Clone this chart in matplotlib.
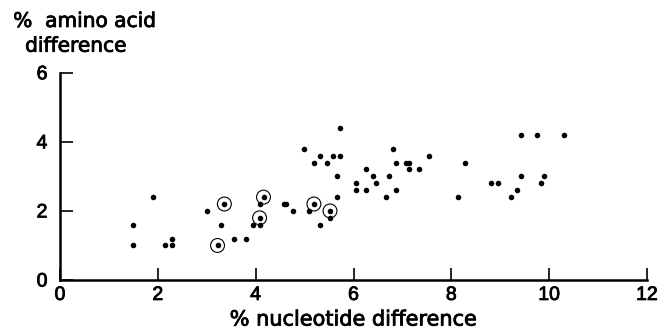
import matplotlib
matplotlib.use("Agg")
import matplotlib.pyplot as plt
import matplotlib.patheffects as pe

# plain points
x_plain = [1.5, 1.5, 1.9, 2.15, 2.28, 2.28, 3.0, 3.3, 3.55, 3.8, 3.95, 4.08, 4.08,
           4.58, 4.63, 4.77, 4.98, 5.1, 5.19, 5.32, 5.32, 5.45, 5.52, 5.59, 5.72,
           5.72, 5.66, 5.66, 6.06, 6.06, 6.26, 6.26, 6.4, 6.45, 6.66, 6.73, 6.8,
           6.87, 6.87, 7.07, 7.14, 7.14, 7.34, 7.55, 8.14, 8.28, 8.82, 8.96, 9.22,
           9.35, 9.42, 9.42, 9.76, 9.83, 9.9, 10.3]
y_plain = [1.6, 1.0, 2.4, 1.0, 1.0, 1.2, 2.0, 1.6, 1.2, 1.2, 1.6, 1.6, 2.2,
           2.2, 2.2, 2.0, 3.8, 2.0, 3.4, 3.6, 1.6, 3.4, 1.8, 3.6, 3.6,
           4.4, 3.0, 2.4, 2.8, 2.6, 3.2, 2.6, 3.0, 2.8, 2.4, 3.0, 3.8,
           3.4, 2.6, 3.4, 3.4, 3.2, 3.2, 3.6, 2.4, 3.4, 2.8, 2.8, 2.4,
           2.6, 3.0, 4.2, 4.2, 2.8, 3.0, 4.2]
# circled points
x_circ = [3.22, 3.36, 4.08, 4.16, 5.19, 5.52]
y_circ = [1.0, 2.2, 1.8, 2.4, 2.2, 2.0]

xticks = [0, 2, 4, 6, 8, 10, 12]
yticks = [0, 2, 4, 6]

plt.rcParams['font.family'] = ['DejaVu Sans']
fig = plt.figure(figsize=(6.61, 3.30), dpi=100)
ax = fig.add_axes([0.0908, 0.1515, 0.888, 0.628])

ax.scatter(x_plain + x_circ, y_plain + y_circ, s=16, color='black', zorder=3, linewidths=0)
ax.scatter(x_circ, y_circ, s=100, facecolors='none', edgecolors='black', linewidths=0.8, zorder=2)

thick = [pe.withStroke(linewidth=0.6, foreground='black')]

ax.set_xlim(0, 12)
ax.set_ylim(0, 6)
ax.set_xticks(xticks)
ax.set_yticks(yticks)
ax.set_xticklabels([str(t) for t in xticks], fontsize=14, fontfamily='Liberation Sans')
ax.set_yticklabels([str(t) for t in yticks], fontsize=14, fontfamily='Liberation Sans')
for lab in ax.get_xticklabels() + ax.get_yticklabels():
    lab.set_path_effects(thick)
ax.tick_params(direction='in', length=9, width=1.2, colors='black')
ax.tick_params(axis='x', pad=5)
ax.tick_params(axis='y', pad=9)
ax.spines['top'].set_visible(False)
ax.spines['right'].set_visible(False)
ax.spines['left'].set_linewidth(1.8)
ax.spines['bottom'].set_linewidth(1.8)

xl = ax.set_xlabel('% nucleotide difference', fontsize=15, labelpad=4)
xl.set_path_effects(thick)
t1 = fig.text(0.02, 0.935, '%  amino acid', fontsize=14.5, ha='left', va='center')
t2 = fig.text(0.038, 0.86, 'difference', fontsize=14.5, ha='left', va='center')
t1.set_path_effects(thick)
t2.set_path_effects(thick)

fig.savefig('out.png', dpi=100)
